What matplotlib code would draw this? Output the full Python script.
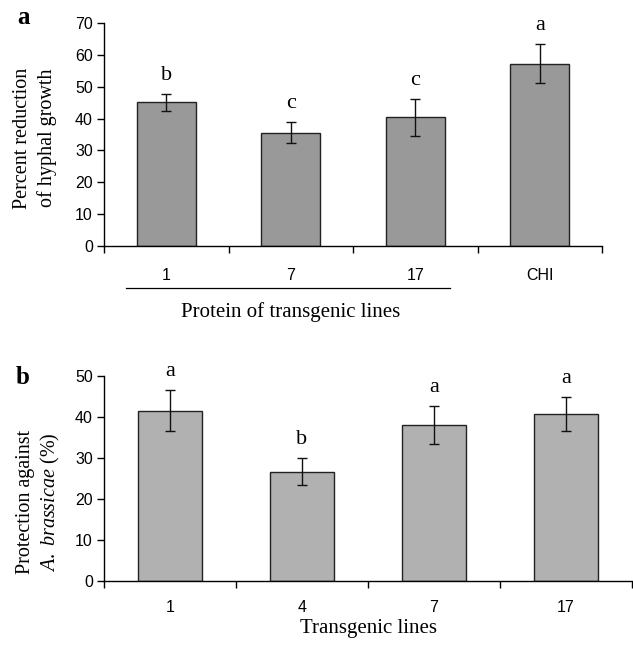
import matplotlib
matplotlib.use("Agg")
import matplotlib.pyplot as plt
import matplotlib.transforms as mtransforms
import numpy as np

plt.rcParams['mathtext.fontset'] = 'custom'
plt.rcParams['mathtext.rm'] = 'Liberation Serif'
plt.rcParams['mathtext.it'] = 'Liberation Serif:italic'

# Panel a data
cats_a = ["1", "7", "17", "CHI"]
vals_a = [45.1, 35.6, 40.4, 57.2]
err_a = [2.6, 3.3, 5.8, 6.1]
letters_a = ["b", "c", "c", "a"]

# Panel b data
cats_b = ["1", "4", "7", "17"]
vals_b = [41.5, 26.6, 38.0, 40.7]
err_b = [5.0, 3.3, 4.6, 4.1]
letters_b = ["a", "b", "a", "a"]

W, H = 633, 645
fig = plt.figure(figsize=(W / 100, H / 100), dpi=100)

def rect(l, r, t, b):
    return [l / W, 1 - b / H, (r - l) / W, (b - t) / H]

sans = 'Liberation Sans'
serif = 'Liberation Serif'
tick_size = 11.5

def style(ax, cats, ymax, step, pad):
    ax.spines['top'].set_visible(False)
    ax.spines['right'].set_visible(False)
    ax.set_ylim(0, ymax)
    ax.set_yticks(np.arange(0, ymax + 1, step))
    ax.set_xlim(-0.5, len(cats) - 0.5)
    ax.set_xticks(np.arange(len(cats)))
    ax.set_xticklabels(cats)
    ax.set_xticks(np.arange(-0.5, len(cats)), minor=True)
    ax.tick_params(axis='x', which='major', length=0, pad=pad)
    ax.tick_params(axis='x', which='minor', length=5, width=1, direction='out')
    ax.tick_params(axis='y', length=5, width=1, direction='out', pad=3)
    for lab in ax.get_xticklabels() + ax.get_yticklabels():
        lab.set_fontfamily(sans)
        lab.set_fontsize(tick_size)
    for s in ('left', 'bottom'):
        ax.spines[s].set_linewidth(1.0)

# Panel a
ax1 = fig.add_axes(rect(104, 602, 23, 246))
x = np.arange(len(cats_a))
ax1.bar(x, vals_a, width=0.47, color='#999999', edgecolor='#222222', linewidth=1.0, zorder=2)
ax1.errorbar(x, vals_a, yerr=err_a, fmt='none', ecolor='#111111', elinewidth=1.0, capsize=3.5, capthick=1.0, zorder=3)
for xi, v, e, l in zip(x, vals_a, err_a, letters_a):
    ax1.text(xi, v + e + 2.8, l, ha='center', va='bottom', family=serif, fontsize=16)
style(ax1, cats_a, 70, 10, 16)
fig.text(35 / W, 1 - 138 / H, "Percent reduction\nof hyphal growth", rotation=90,
         ha='center', va='center', multialignment='center', family=serif, fontsize=14.5, linespacing=1.3)
trans = mtransforms.blended_transform_factory(ax1.transData, ax1.transAxes)
ax1.plot([-0.32, 2.28], [-42 / 223, -42 / 223], color='black', lw=0.9, transform=trans, clip_on=False)
ax1.text(1.0, -66 / 223, "Protein of transgenic lines", transform=trans, ha='center', va='center', family=serif, fontsize=15)
fig.text(23 / W, 1 - 18 / H, "a", family=serif, fontweight='bold', fontsize=18, ha='center', va='center')

# Panel b
ax2 = fig.add_axes(rect(104, 632, 376, 581))
x = np.arange(len(cats_b))
ax2.bar(x, vals_b, width=0.485, color='#b0b1b0', edgecolor='#222222', linewidth=1.0, zorder=2)
ax2.errorbar(x, vals_b, yerr=err_b, fmt='none', ecolor='#111111', elinewidth=1.0, capsize=3.5, capthick=1.0, zorder=3)
for xi, v, e, l in zip(x, vals_b, err_b, letters_b):
    ax2.text(xi, v + e + 2.3, l, ha='center', va='bottom', family=serif, fontsize=16)
style(ax2, cats_b, 50, 10, 14)
fig.text(39 / W, 1 - 502 / H, "Protection against\n$\\mathit{A.\\ brassicae}$ (%)", rotation=90,
         ha='center', va='center', multialignment='center', family=serif, fontsize=14.5, linespacing=1.2)
fig.text((104 + 632) / 2 / W, 1 - 629 / H, "Transgenic lines", family=serif, fontsize=15, ha='center', va='center')
fig.text(23 / W, 1 - 378 / H, "b", family=serif, fontweight='bold', fontsize=18, ha='center', va='center')

fig.savefig("out.png", dpi=100)
